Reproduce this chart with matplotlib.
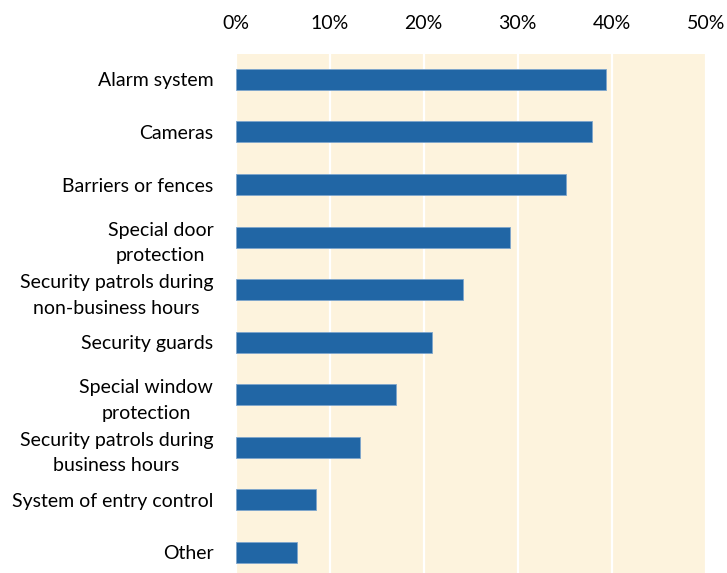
import matplotlib.pyplot as plt
from matplotlib.ticker import PercentFormatter

categories = [
    "Alarm system",
    "Cameras",
    "Barriers or fences",
    "Special door\nprotection",
    "Security patrols during\nnon-business hours",
    "Security guards",
    "Special window\nprotection",
    "Security patrols during\nbusiness hours",
    "System of entry control",
    "Other",
]
values = [39.4, 37.9, 35.1, 29.2, 24.2, 20.9, 17.1, 13.2, 8.6, 6.5]
xticks = [0, 10, 20, 30, 40, 50]

plt.rcParams['font.family'] = ['Lato', 'DejaVu Sans']

fig = plt.figure(figsize=(7.27, 5.73), dpi=100)
ax = fig.add_axes([0.324, 0.0, 0.647, 0.906])
ax.set_facecolor("#fdf3dd")

pos = list(range(len(categories)))
ax.barh(pos, values, height=0.4, color="#2166a5", edgecolor="#7ea6cc", linewidth=0.6, zorder=3)

ax.set_xlim(0, 50)
ax.set_ylim(9.39, -0.485)
ax.set_xticks(xticks)
ax.xaxis.set_major_formatter(PercentFormatter(decimals=0))
ax.xaxis.tick_top()
ax.set_yticks(pos)
ax.set_yticklabels(categories, multialignment="center", linespacing=1.6)
ax.tick_params(axis="x", length=0, pad=16, labelsize=14)
ax.tick_params(axis="y", length=0, pad=16, labelsize=14)
ax.grid(axis="x", color="white", linewidth=1.6, zorder=1)
for s in ax.spines.values():
    s.set_visible(False)

fig.savefig("out.png", dpi=100)
